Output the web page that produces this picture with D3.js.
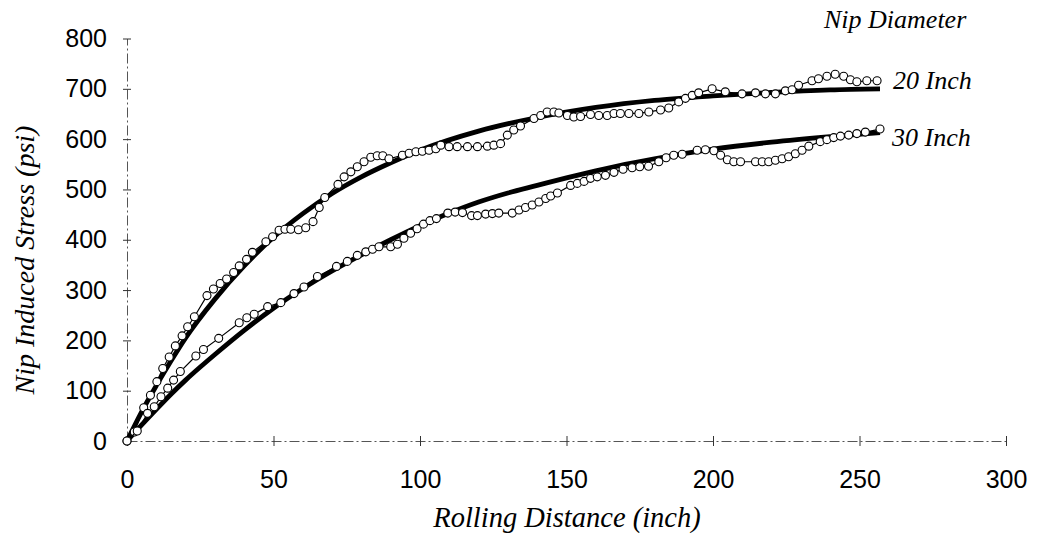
<!DOCTYPE html>
<meta charset="utf-8">
<style>
body{margin:0;background:#fff;}
.tick text{font-family:"Liberation Sans",Arial,sans-serif;font-size:25px;fill:#000;}
.title{font-family:"Liberation Serif","Times New Roman",serif;font-style:italic;font-size:26px;fill:#000;}
.axis path.domain{stroke:#555;stroke-width:1;stroke-dasharray:10,3,2,3;}
.axis .tick line{stroke:#333;}
.fit{fill:none;stroke:#000;stroke-width:4.8;}
.raw{fill:none;stroke:#000;stroke-width:1.2;}
.dot{fill:#fff;stroke:#000;stroke-width:1.1;}
</style>
<body>
<script src="https://d3js.org/d3.v7.min.js"></script>
<script>

var xTicks=[0,50,100,150,200,250,300];
var yTicks=[0,100,200,300,400,500,600,700,800];

// measured stress, 20 inch nip  [distance, stress]
var nip20=[[0,0],[2.5,18],[5.7,66],[8,91],[10.2,118],[12.2,144],[14.4,167],[16.5,189],[18.8,209],[20.7,227],
 [23,247],[27.3,289],[29.5,302],[31.8,313],[34,322],[36.4,335],[38.3,348],[40.8,361],[42.8,375],[47.4,396],
 [49.7,406],[51.9,419],[53.9,421],[55.9,421],[58.5,420],[61,424],[63.5,436],[65.6,464],[67.5,484],[72,510],
 [74.1,525],[76.4,535],[78.6,545],[80.9,555],[83.2,564],[85.4,567],[87.3,567],[89.4,561],[94,568],[96.3,572],
 [98.6,575],[100.8,576],[103.1,578],[105.4,581],[107.1,588],[109.9,585],[112.7,585],[116.2,585],[119.6,585],[123,586],
 [125.2,588],[127.5,591],[129.8,608],[132,618],[134.3,626],[138.9,641],[141.2,647],[143.4,654],[145.7,654],[147.4,652],
 [150.3,647],[152.5,644],[154.8,645],[158.2,649],[161,647],[163.9,647],[166.2,651],[168.4,651],[171.3,651],[174.7,651],
 [178.1,654],[182.1,658],[184.9,662],[188.3,674],[190.6,681],[192.9,687],[195.1,692],[199.7,700],[204.2,694],[209.9,690],
 [214.5,692],[217.9,690],[221.3,690],[224.7,696],[227,698],[229.2,707],[233.8,716],[236,720],[238.9,725],[241.7,729],
 [244.6,725],[246.9,718],[249.1,714],[252.5,716],[256,716]];

// measured stress, 30 inch nip
var nip30=[[0,0],[3.5,20],[7,55],[9.3,68],[11.6,88],[13.9,105],[15.9,121],[18.2,138],[23.5,169],[26.1,182],
 [31.3,204],[38.3,235],[40.9,245],[43.4,252],[48,267],[52.5,275],[57,293],[60.4,306],[65,327],[71.5,347],
 [75.2,357],[78.6,369],[81.5,376],[83.8,381],[86,386],[90,386],[92.3,391],[94.5,403],[96.8,413],[99,422],
 [101.2,431],[103.4,438],[105.6,442],[109.5,453],[112,455],[114.5,454],[117.6,448],[119.6,448],[122.4,451],[124.7,452],
 [126.9,453],[131.5,453],[133.8,459],[136,464],[138.3,469],[140.6,475],[142.9,482],[144.6,487],[146.9,493],[151.4,508],
 [153.7,512],[156,516],[158.2,522],[160.5,525],[163.3,528],[166.2,534],[169.3,540],[172.4,543],[175,545],[178,546],
 [181.5,555],[184,563],[186.6,568],[189.5,570],[194.6,578],[197.4,579],[200.3,577],[202.6,568],[204.9,559],[207.1,555],
 [209.4,555],[214.5,555],[216.8,555],[219,555],[221.3,558],[223.6,561],[225.8,565],[228.1,571],[230.4,578],[232.7,586],
 [236.6,595],[238.9,599],[241.2,603],[243.5,606],[246.3,608],[249.1,611],[252,614],[257,620]];

// fitted curves
var fit20=[[0,0],[5,58],[10,110],[15,159],[20,205],[30,282],[40,348],[50,405],[60,452],[70,492],[80,525],[90,553],
 [100,578],[120,616],[140,643],[160,663],[180,677],[200,686],[220,693],[240,698],[257,700]];
var fit30=[[0,0],[5,32],[10,63],[15,93],[20,121],[25,147],[30,172],[40,220],[50,264],[60,303],[70,338],[80,370],
 [90,400],[100,428],[110,453],[120,475],[130,493],[140,508],[150,523],[160,537],[170,550],[180,561],[190,571],
 [200,580],[220,594],[240,605],[257,613]];

var svg=d3.select("body").append("svg").attr("width",1040).attr("height",552);

var x=d3.scaleLinear().domain([0,300]).range([127,1006]);
var y=d3.scaleLinear().domain([0,800]).range([441,38.5]);

var gx=svg.append("g").attr("class","axis").attr("transform","translate(0,441)")
	.call(d3.axisBottom(x).tickValues(xTicks).tickSize(0).tickPadding(29));
gx.selectAll(".tick").append("line").attr("y1",-5).attr("y2",5);

var gy=svg.append("g").attr("class","axis").attr("transform","translate(127,0)")
	.call(d3.axisLeft(y).tickValues(yTicks).tickSize(0).tickPadding(20));
gy.selectAll(".tick").append("line").attr("x1",-4).attr("x2",4);

var line=d3.line().x(d=>x(d[0])).y(d=>y(d[1]));
var smooth=d3.line().x(d=>x(d[0])).y(d=>y(d[1])).curve(d3.curveMonotoneX);

[fit20,fit30].forEach(function(f){
	svg.append("path").attr("class","fit").attr("d",smooth(f));
});

[nip20,nip30].forEach(function(s){
	svg.append("path").attr("class","raw").attr("d",line(s));
	svg.append("g").selectAll("circle").data(s).enter().append("circle")
		.attr("class","dot")
		.attr("cx",d=>x(d[0]))
		.attr("cy",d=>y(d[1]))
		.attr("r",4);
});

svg.append("text").attr("class","title").attr("x",824).attr("y",28).text("Nip Diameter");
svg.append("text").attr("class","title").attr("x",893).attr("y",89).text("20 Inch");
svg.append("text").attr("class","title").attr("x",892).attr("y",146).text("30 Inch");

svg.append("text").attr("class","title").attr("x",567).attr("y",527)
	.style("text-anchor","middle").style("font-size","28.5px").text("Rolling Distance (inch)");
svg.append("text").attr("class","title")
	.attr("transform","translate(34,260) rotate(-90)")
	.style("text-anchor","middle").style("font-size","28px").text("Nip Induced Stress (psi)");

</script>
</body>
